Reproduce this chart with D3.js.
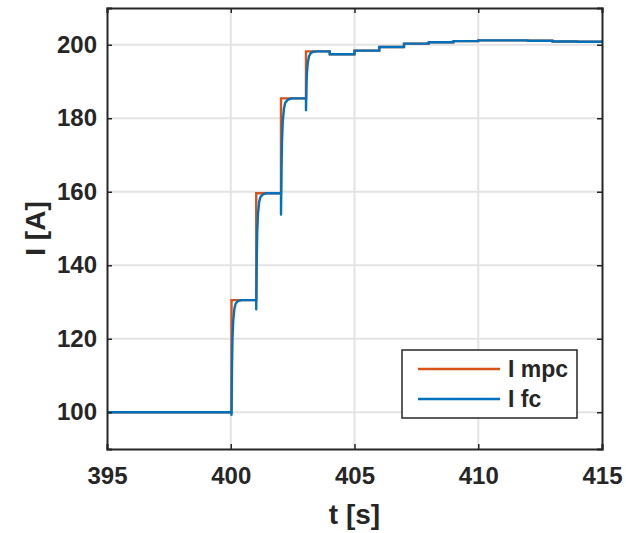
<!DOCTYPE html>
<html>
<head>
<meta charset="utf-8">
<script src="https://cdn.jsdelivr.net/npm/d3@7"></script>
<style>
  html, body { margin: 0; padding: 0; background: #fff; }
  svg { display: block; }
  text { font-family: "Liberation Sans", Arial, sans-serif; font-weight: bold; fill: #262626; }
</style>
</head>
<body>
<svg id="chart" width="626" height="533"></svg>
<script>
// Reference current from the MPC: steps at each second (time [s], current [A])
const mpcTime  = [395, 400.03, 401.03, 402.03, 403.04, 404, 405, 406, 407, 408, 409, 410, 411, 412, 413, 414, 415];
const mpcValue = [100, 130.5, 159.6, 185.4, 198.2, 197.4, 198.4, 199.4, 200.3, 200.7, 201.0, 201.2, 201.2, 201.1, 200.9, 200.8, 200.8];

// Fuel-cell current response (time [s], current [A])
const fcTime = [
  395, 400.03, 400.03, 400.05, 400.07, 400.10, 400.15, 400.20, 400.30, 400.45, 401.03,
  401.03, 401.05, 401.07, 401.10, 401.15, 401.20, 401.30, 401.45, 402.03,
  402.03, 402.05, 402.07, 402.10, 402.15, 402.20, 402.30, 402.45, 403.04,
  403.04, 403.06, 403.08, 403.11, 403.16, 403.22, 403.32, 403.50, 404.0,
  404.0, 405.0, 405.0, 406.0, 406.0, 407.0, 407.0, 408.0, 408.0, 409.0, 409.0,
  410.0, 410.0, 411.0, 411.0, 412.0, 412.0, 413.0, 413.0, 414.0, 414.0, 415
];
const fcValue = [
  100, 100, 99.3, 112, 120, 125, 128.3, 129.6, 130.3, 130.5, 130.5,
  128.0, 141, 149, 154, 157.3, 158.6, 159.3, 159.6, 159.6,
  153.8, 166, 173.5, 179, 182.6, 184.2, 185.0, 185.4, 185.4,
  182.2, 189, 192.5, 195, 196.8, 197.6, 198.1, 198.2, 198.2,
  197.4, 197.4, 198.4, 198.4, 199.4, 199.4, 200.3, 200.3, 200.7, 200.7, 201.0,
  201.0, 201.2, 201.2, 201.2, 201.2, 201.1, 201.1, 200.9, 200.9, 200.8, 200.8
];

const xTicks = [395, 400, 405, 410, 415];
const yTicks = [100, 120, 140, 160, 180, 200];
const seriesNames = ["I mpc", "I fc"];
const seriesColors = ["#D95319", "#0072BD"];

const svg = d3.select("#chart");
const plot = { left: 107, right: 602, top: 8, bottom: 449 };

const x = d3.scaleLinear().domain([395, 415]).range([plot.left, plot.right]);
const y = d3.scaleLinear().domain([90, 210]).range([plot.bottom, plot.top]);

// grid
const grid = svg.append("g");
grid.selectAll(".gx").data(xTicks.slice(1, -1)).join("line")
  .attr("x1", d => x(d)).attr("x2", d => x(d))
  .attr("y1", plot.top).attr("y2", plot.bottom)
  .attr("stroke", "#e3e3e3").attr("stroke-width", 2);
grid.selectAll(".gy").data(yTicks).join("line")
  .attr("x1", plot.left).attr("x2", plot.right)
  .attr("y1", d => y(d)).attr("y2", d => y(d))
  .attr("stroke", "#e3e3e3").attr("stroke-width", 2);

// series
const mpcData = mpcTime.map((t, i) => [t, mpcValue[i]]);
const fcData = fcTime.map((t, i) => [t, fcValue[i]]);

svg.append("path").datum(mpcData)
  .attr("fill", "none").attr("stroke", seriesColors[0]).attr("stroke-width", 2.4)
  .attr("d", d3.line().x(d => x(d[0])).y(d => y(d[1])).curve(d3.curveStepAfter));

svg.append("path").datum(fcData)
  .attr("fill", "none").attr("stroke", seriesColors[1]).attr("stroke-width", 2.4)
  .attr("stroke-linejoin", "round")
  .attr("d", d3.line().x(d => x(d[0])).y(d => y(d[1])));

// axes (ticks point inward, box on)
const tickLen = 5;
const xAxis = d3.axisBottom(x).tickValues(xTicks).tickSize(-tickLen).tickPadding(18).tickFormat(d3.format("d"));
const yAxis = d3.axisLeft(y).tickValues(yTicks).tickSize(-tickLen).tickPadding(10).tickFormat(d3.format("d"));

const gx = svg.append("g").attr("transform", `translate(0,${plot.bottom})`).call(xAxis);
const gy = svg.append("g").attr("transform", `translate(${plot.left},0)`).call(yAxis);
svg.append("g").attr("transform", `translate(0,${plot.top})`)
  .call(d3.axisTop(x).tickValues(xTicks).tickSize(-tickLen).tickFormat(""));
svg.append("g").attr("transform", `translate(${plot.right},0)`)
  .call(d3.axisRight(y).tickValues(yTicks).tickSize(-tickLen).tickFormat(""));

svg.selectAll(".domain").attr("stroke", "#262626").attr("stroke-width", 2);
svg.selectAll(".tick line").attr("stroke", "#262626").attr("stroke-width", 1.5);
svg.selectAll(".tick text").style("font-size", "24px").attr("fill", "#262626");
gx.selectAll(".tick text").attr("dy", "0.71em");

// axis titles
svg.append("text").attr("x", (plot.left + plot.right) / 2).attr("y", 524)
  .attr("text-anchor", "middle").style("font-size", "28px").text("t [s]");
svg.append("text").attr("transform", `translate(45,${(plot.top + plot.bottom) / 2}) rotate(-90)`)
  .attr("text-anchor", "middle").style("font-size", "28px").text("I [A]");

// legend
const lg = svg.append("g").attr("transform", "translate(402,350)");
lg.append("rect").attr("width", 175).attr("height", 68)
  .attr("fill", "#fff").attr("stroke", "#262626").attr("stroke-width", 1.5);
seriesNames.forEach((name, i) => {
  const yy = 19 + i * 30;
  lg.append("line").attr("x1", 16).attr("x2", 98).attr("y1", yy).attr("y2", yy)
    .attr("stroke", seriesColors[i]).attr("stroke-width", 2.4);
  lg.append("text").attr("x", 106).attr("y", yy).attr("dy", "0.36em")
    .style("font-size", "23px").text(name);
});
</script>
</body>
</html>
